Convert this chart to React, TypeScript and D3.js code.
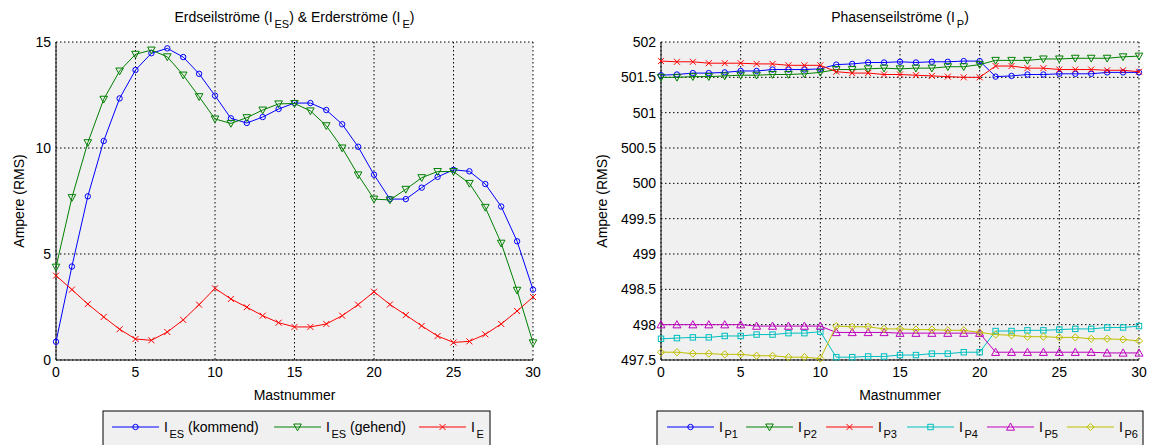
import React from "react";
import * as d3 from "d3";

// Mastnummer 0..30
const masts = d3.range(0, 31);

// Erdseilströme / Erderströme (A RMS)
const iesKommend = [0.86, 4.41, 7.72, 10.33, 12.34, 13.68, 14.47, 14.7, 14.29, 13.5, 12.47, 11.4, 11.18, 11.46, 11.84, 12.12, 12.12, 11.79, 11.12, 10.06, 8.74, 7.59, 7.59, 8.13, 8.64, 8.97, 8.9, 8.3, 7.24, 5.6, 3.32];
const iesGehend = [4.38, 7.66, 10.25, 12.3, 13.63, 14.42, 14.62, 14.3, 13.44, 12.42, 11.37, 11.16, 11.43, 11.79, 12.08, 12.1, 11.75, 11.05, 10.0, 8.73, 7.59, 7.55, 8.05, 8.6, 8.89, 8.89, 8.33, 7.2, 5.51, 3.29, 0.81];
const iE = [3.98, 3.32, 2.64, 2.03, 1.45, 0.99, 0.93, 1.32, 1.89, 2.61, 3.38, 2.88, 2.49, 2.09, 1.76, 1.56, 1.56, 1.7, 2.09, 2.61, 3.22, 2.62, 2.12, 1.61, 1.13, 0.83, 0.88, 1.21, 1.7, 2.31, 2.97];

// Phasenseilströme (A RMS)
const iP1 = [501.53, 501.54, 501.56, 501.56, 501.57, 501.59, 501.59, 501.61, 501.61, 501.61, 501.62, 501.68, 501.69, 501.71, 501.71, 501.72, 501.71, 501.72, 501.72, 501.73, 501.73, 501.51, 501.52, 501.54, 501.54, 501.55, 501.55, 501.55, 501.57, 501.57, 501.57];
const iP2 = [501.5, 501.5, 501.51, 501.51, 501.52, 501.53, 501.53, 501.54, 501.54, 501.55, 501.57, 501.61, 501.61, 501.62, 501.63, 501.62, 501.63, 501.63, 501.65, 501.65, 501.68, 501.74, 501.74, 501.74, 501.76, 501.76, 501.77, 501.77, 501.77, 501.79, 501.8];
const iP3 = [501.73, 501.72, 501.72, 501.7, 501.7, 501.7, 501.69, 501.69, 501.67, 501.67, 501.67, 501.58, 501.56, 501.56, 501.54, 501.54, 501.53, 501.52, 501.51, 501.5, 501.5, 501.66, 501.66, 501.63, 501.63, 501.61, 501.61, 501.61, 501.6, 501.6, 501.58];
const iP4 = [497.8, 497.81, 497.82, 497.82, 497.84, 497.84, 497.86, 497.86, 497.88, 497.88, 497.9, 497.54, 497.54, 497.55, 497.55, 497.57, 497.57, 497.59, 497.59, 497.61, 497.61, 497.91, 497.91, 497.92, 497.92, 497.93, 497.94, 497.94, 497.96, 497.96, 497.98];
const iP5 = [498.0, 498.0, 498.0, 498.0, 498.0, 498.0, 497.98, 497.98, 497.98, 497.98, 497.98, 497.89, 497.89, 497.89, 497.89, 497.88, 497.88, 497.88, 497.88, 497.88, 497.88, 497.61, 497.61, 497.61, 497.61, 497.61, 497.61, 497.61, 497.6, 497.6, 497.6];
const iP6 = [497.61, 497.61, 497.59, 497.59, 497.58, 497.58, 497.56, 497.56, 497.54, 497.54, 497.52, 497.98, 497.97, 497.97, 497.94, 497.94, 497.93, 497.93, 497.92, 497.92, 497.89, 497.86, 497.85, 497.83, 497.83, 497.82, 497.82, 497.8, 497.8, 497.79, 497.77];

const xTicks = [0, 5, 10, 15, 20, 25, 30];
const yTicksLeft = [0, 5, 10, 15];
const yTicksRight = [497.5, 498, 498.5, 499, 499.5, 500, 500.5, 501, 501.5, 502];

type Marker = "circle" | "triDown" | "x" | "square" | "triUp" | "diamond";
type Series = { main: string; sub: string; rest: string; color: string; marker: Marker; values: number[] };

const leftSeries: Series[] = [
  { main: "I", sub: "ES", rest: " (kommend)", color: "#0000ff", marker: "circle", values: iesKommend },
  { main: "I", sub: "ES", rest: " (gehend)", color: "#008000", marker: "triDown", values: iesGehend },
  { main: "I", sub: "E", rest: "", color: "#ff0000", marker: "x", values: iE },
];

const rightSeries: Series[] = [
  { main: "I", sub: "P1", rest: "", color: "#0000ff", marker: "circle", values: iP1 },
  { main: "I", sub: "P2", rest: "", color: "#008000", marker: "triDown", values: iP2 },
  { main: "I", sub: "P3", rest: "", color: "#ff0000", marker: "x", values: iP3 },
  { main: "I", sub: "P4", rest: "", color: "#00bfbf", marker: "square", values: iP4 },
  { main: "I", sub: "P5", rest: "", color: "#bf00bf", marker: "triUp", values: iP5 },
  { main: "I", sub: "P6", rest: "", color: "#bfbf00", marker: "diamond", values: iP6 },
];

const FONT = "'Liberation Sans', Arial, Helvetica, sans-serif";

function MarkerShape({ type, x, y, color }: { type: Marker; x: number; y: number; color: string }) {
  const common = { fill: "none", stroke: color, strokeWidth: 1 };
  switch (type) {
    case "circle":
      return <circle cx={x} cy={y} r={2.7} {...common} />;
    case "triDown":
      return <polygon points={`${x - 3.8},${y - 3} ${x + 3.8},${y - 3} ${x},${y + 3.8}`} {...common} />;
    case "x":
      return <path d={`M${x - 3},${y - 3}L${x + 3},${y + 3}M${x - 3},${y + 3}L${x + 3},${y - 3}`} {...common} />;
    case "square":
      return <rect x={x - 2.7} y={y - 2.7} width={5.4} height={5.4} {...common} />;
    case "triUp":
      return <polygon points={`${x - 4},${y + 3.2} ${x + 4},${y + 3.2} ${x},${y - 4}`} {...common} />;
    case "diamond":
      return <polygon points={`${x - 3.6},${y} ${x},${y - 3.6} ${x + 3.6},${y} ${x},${y + 3.6}`} {...common} />;
  }
}

interface PanelProps {
  left: number;
  right: number;
  top: number;
  bottom: number;
  yDomain: [number, number];
  yTicks: number[];
  series: Series[];
  titleMain: string;
  titleParts: { text: string; sub?: boolean }[];
  yLabelX: number;
  legend: { x: number; width: number; starts: number[] };
}

function Panel({ left, right, top, bottom, yDomain, yTicks, series, titleParts, yLabelX, legend }: PanelProps) {
  const x = d3.scaleLinear().domain([0, 30]).range([left, right]);
  const y = d3.scaleLinear().domain(yDomain).range([bottom, top]);
  const line = d3
    .line<number>()
    .x((_, i) => x(masts[i]))
    .y((d) => y(d));
  const cx = (left + right) / 2;
  const grid = { stroke: "#000", strokeWidth: 1, strokeDasharray: "1.5,2.5" };

  return (
    <g fontFamily={FONT}>
      <rect x={left} y={top} width={right - left} height={bottom - top} fill="#f0f0f0" />
      {xTicks.map((t) => (
        <line key={"gx" + t} x1={x(t)} x2={x(t)} y1={top} y2={bottom} {...grid} />
      ))}
      {yTicks.map((t) => (
        <line key={"gy" + t} x1={left} x2={right} y1={y(t)} y2={y(t)} {...grid} />
      ))}
      <line x1={left} x2={left} y1={top} y2={bottom} stroke="#000" strokeWidth={1} />
      <line x1={left} x2={right} y1={bottom} y2={bottom} stroke="#000" strokeWidth={1} />

      {series.map((s) => (
        <g key={s.sub}>
          <path d={line(s.values) || ""} fill="none" stroke={s.color} strokeWidth={1} />
          {s.values.map((v, i) => (
            <MarkerShape key={i} type={s.marker} x={x(masts[i])} y={y(v)} color={s.color} />
          ))}
        </g>
      ))}

      {xTicks.map((t) => (
        <text key={"tx" + t} x={x(t)} y={bottom + 17} fontSize={14} textAnchor="middle" fill="#000">
          {t}
        </text>
      ))}
      {yTicks.map((t) => (
        <text key={"ty" + t} x={left - 5} y={y(t) + 5} fontSize={14} textAnchor="end" fill="#000">
          {t}
        </text>
      ))}

      <text x={cx} y={bottom + 40} fontSize={14} textAnchor="middle">
        Mastnummer
      </text>
      <text
        transform={`translate(${yLabelX},${(top + bottom) / 2}) rotate(-90)`}
        fontSize={14}
        textAnchor="middle"
      >
        Ampere (RMS)
      </text>
      <text x={cx} y={22} fontSize={14} textAnchor="middle">
        {titleParts.map((p, i) =>
          p.sub ? (
            <tspan key={i} fontSize={11} dx={2} dy={6}>
              {p.text}
            </tspan>
          ) : (
            <tspan key={i} dy={i > 0 && titleParts[i - 1].sub ? -6 : 0}>
              {p.text}
            </tspan>
          )
        )}
      </text>

      <rect x={legend.x} y={411} width={legend.width} height={45} fill="#f0f0f0" stroke="#000" strokeWidth={1} />
      {series.map((s, i) => {
        const sx = legend.starts[i];
        return (
          <g key={"lg" + s.sub}>
            <line x1={sx} x2={sx + 47} y1={427} y2={427} stroke={s.color} strokeWidth={1} />
            <MarkerShape type={s.marker} x={sx + 23.5} y={427} color={s.color} />
            <text x={sx + 52} y={432} fontSize={14}>
              <tspan>{s.main}</tspan>
              <tspan fontSize={11} dx={1.5} dy={6}>
                {s.sub}
              </tspan>
              {s.rest ? <tspan dy={-6}>{s.rest}</tspan> : null}
            </text>
          </g>
        );
      })}
    </g>
  );
}

export default function App() {
  return (
    <svg
      width={1151}
      height={445}
      style={{ position: "absolute", left: 0, top: 0, background: "#fff" }}
    >
      <Panel
        left={56}
        right={533}
        top={42}
        bottom={360}
        yDomain={[0, 15]}
        yTicks={yTicksLeft}
        series={leftSeries}
        titleMain="Erdseilströme"
        titleParts={[
          { text: "Erdseilströme (I" },
          { text: "ES", sub: true },
          { text: ") & Erderströme (I" },
          { text: "E", sub: true },
          { text: ")" },
        ]}
        yLabelX={24}
        legend={{ x: 103, width: 387, starts: [112, 274, 419] }}
      />
      <Panel
        left={661}
        right={1139}
        top={42}
        bottom={360}
        yDomain={[497.5, 502]}
        yTicks={yTicksRight}
        series={rightSeries}
        titleMain="Phasenseilströme"
        titleParts={[{ text: "Phasenseilströme (I" }, { text: "P", sub: true }, { text: ")" }]}
        yLabelX={607}
        legend={{ x: 657, width: 486, starts: [667, 746, 826, 907, 987, 1067] }}
      />
    </svg>
  );
}
